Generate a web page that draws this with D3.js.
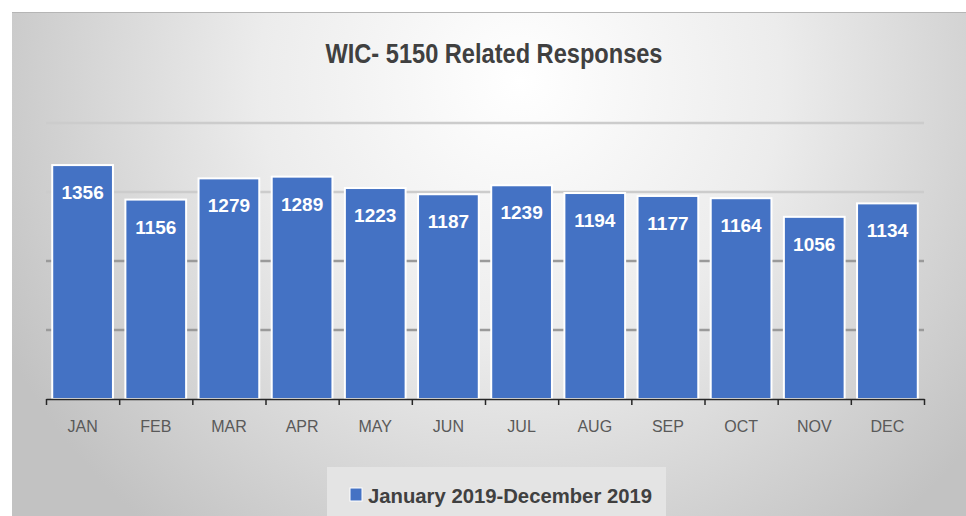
<!DOCTYPE html>
<html>
<head>
<meta charset="UTF-8">
<title>WIC- 5150 Related Responses</title>
<script src="https://d3js.org/d3.v7.min.js"></script>
<style>
    body { margin: 0; background: #ffffff; }
    svg { display: block; }
</style>
</head>
<body>
<svg id="chart" width="966" height="516"></svg>
<script>
    // data
    var months = ["JAN", "FEB", "MAR", "APR", "MAY", "JUN", "JUL", "AUG", "SEP", "OCT", "NOV", "DEC"];
    var responses = [1356, 1156, 1279, 1289, 1223, 1187, 1239, 1194, 1177, 1164, 1056, 1134];
    var gridValues = [400, 800, 1200, 1600];
    var seriesName = "January 2019-December 2019";
    var chartTitle = "WIC- 5150 Related Responses";

    var svg = d3.select("#chart");
    var W = 966, H = 516;
    var plotLeft = 46, plotRight = 924, plotTop = 123, plotBase = 399;

    // background panel with soft radial gradient
    var defs = svg.append("defs");
    var grad = defs.append("radialGradient")
        .attr("id", "bg")
        .attr("gradientUnits", "userSpaceOnUse")
        .attr("cx", 520).attr("cy", 80).attr("r", 580);
    grad.append("stop").attr("offset", "0%").attr("stop-color", "#ffffff");
    grad.append("stop").attr("offset", "45%").attr("stop-color", "#ececec");
    grad.append("stop").attr("offset", "100%").attr("stop-color", "#c2c2c2");

    svg.append("rect")
        .attr("x", 12).attr("y", 12)
        .attr("width", W - 12).attr("height", H - 12)
        .attr("fill", "url(#bg)");
    svg.append("line")
        .attr("x1", 12).attr("x2", W).attr("y1", 12.5).attr("y2", 12.5)
        .attr("stroke", "#b5b5b5").attr("stroke-width", 1);

    var x = d3.scaleBand()
        .domain(months)
        .range([plotLeft, plotRight])
        .paddingInner(0.17)
        .paddingOuter(0.085);

    var y = d3.scaleLinear()
        .domain([0, 1600])
        .range([plotBase, plotTop]);

    // title
    svg.append("text")
        .attr("x", 494).attr("y", 63)
        .attr("text-anchor", "middle")
        .attr("font-family", "Liberation Sans Narrow, Liberation Sans, sans-serif")
        .attr("font-weight", "bold")
        .attr("font-size", 28)
        .attr("fill", "#404040")
        .attr("textLength", 337)
        .attr("lengthAdjust", "spacingAndGlyphs")
        .text(chartTitle);

    // gridlines
    svg.append("g").selectAll("line")
        .data(gridValues)
        .enter().append("line")
        .attr("x1", plotLeft).attr("x2", plotRight)
        .attr("y1", function (d) { return y(d); })
        .attr("y2", function (d) { return y(d); })
        .attr("stroke", function (d) { return d >= 1200 ? "#cccccc" : "#9a9a9a"; })
        .attr("stroke-width", 2.5);

    // bars
    svg.append("g").selectAll("rect")
        .data(responses)
        .enter().append("rect")
        .attr("x", function (d, i) { return x(months[i]); })
        .attr("y", function (d) { return y(d); })
        .attr("width", x.bandwidth())
        .attr("height", function (d) { return plotBase - y(d); })
        .attr("fill", "#4472c4")
        .attr("stroke", "#ffffff")
        .attr("stroke-width", 2);

    // value labels
    svg.append("g").selectAll("text")
        .data(responses)
        .enter().append("text")
        .attr("x", function (d, i) { return x(months[i]) + x.bandwidth() / 2; })
        .attr("y", function (d) { return y(d) + 34; })
        .attr("text-anchor", "middle")
        .attr("font-family", "Liberation Sans, Arial, sans-serif")
        .attr("font-weight", "bold")
        .attr("font-size", 19)
        .attr("fill", "#ffffff")
        .text(function (d) { return d; });

    // x axis: baseline with ticks at category edges
    var edges = d3.scaleLinear().domain([0, months.length]).range([plotLeft, plotRight]);
    svg.append("g")
        .attr("transform", "translate(0," + plotBase + ")")
        .call(d3.axisBottom(edges)
            .tickValues(d3.range(months.length + 1))
            .tickFormat("")
            .tickSize(6)
            .tickSizeOuter(0))
        .call(function (g) {
            g.select(".domain").attr("stroke", "#262626").attr("stroke-width", 1.5);
            g.selectAll(".tick line").attr("stroke", "#262626").attr("stroke-width", 1.5);
        });

    // month labels
    svg.append("g").selectAll("text")
        .data(months)
        .enter().append("text")
        .attr("x", function (d) { return x(d) + x.bandwidth() / 2; })
        .attr("y", 432)
        .attr("text-anchor", "middle")
        .attr("font-family", "Liberation Sans, Arial, sans-serif")
        .attr("font-size", 16)
        .attr("fill", "#595959")
        .text(function (d) { return d; });

    // legend
    var legend = svg.append("g");
    legend.append("rect")
        .attr("x", 327).attr("y", 467)
        .attr("width", 339).attr("height", 60)
        .attr("fill", "#e4e4e4");
    legend.append("rect")
        .attr("x", 350).attr("y", 488)
        .attr("width", 12).attr("height", 13)
        .attr("fill", "#4472c4")
        .attr("stroke", "#ffffff")
        .attr("stroke-width", 1);
    legend.append("text")
        .attr("x", 368).attr("y", 503)
        .attr("font-family", "Liberation Sans, Arial, sans-serif")
        .attr("font-weight", "bold")
        .attr("font-size", 20)
        .attr("fill", "#404040")
        .attr("textLength", 284)
        .attr("lengthAdjust", "spacingAndGlyphs")
        .text(seriesName);
</script>
</body>
</html>
